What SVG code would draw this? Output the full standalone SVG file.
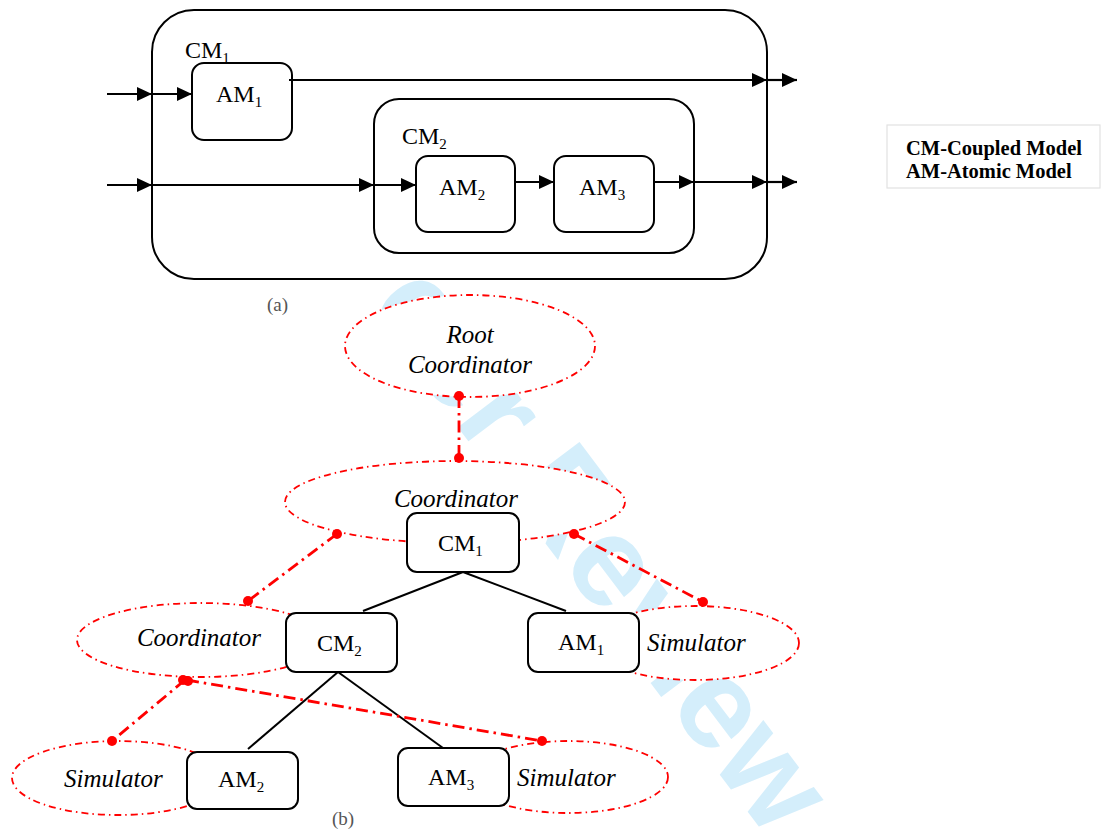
<svg xmlns="http://www.w3.org/2000/svg" width="1101" height="831" viewBox="0 0 1101 831">
  <style>
    .box { fill: #ffffff; stroke: #000000; stroke-width: 2; }
    .arrow { stroke: #000000; stroke-width: 2.2; fill: none; marker-end: url(#ah); }
    .lbl { font-family: "Liberation Serif", "Times New Roman", serif; font-size: 24px; fill: #000000; }
    .sub { font-size: 15px; }
    .role { font-family: "Liberation Serif", "Times New Roman", serif; font-style: italic; font-size: 25px; fill: #000000; }
    .cap { font-family: "Liberation Serif", "Times New Roman", serif; font-size: 19px; fill: #555555; }
    .legend { font-family: "Liberation Serif", "Times New Roman", serif; font-weight: bold; font-size: 20.5px; fill: #000000; }
    .proc { fill: #ffffff; stroke: #ff0000; stroke-width: 1.8; stroke-dasharray: 7 4 1.5 4; }
    .link { fill: none; stroke: #ff0000; stroke-width: 2.8; stroke-dasharray: 12 5 2.5 5; }
    .dot { fill: #ff0000; }
    .tree { stroke: #000000; stroke-width: 2; fill: none; }
  </style>
  <defs>
    <marker id="ah" markerUnits="userSpaceOnUse" markerWidth="16" markerHeight="14" refX="15" refY="7" orient="auto">
      <path d="M0,0 L15,7 L0,14 Z" fill="#000000"/>
    </marker>
    <clipPath id="page-body">
      <rect x="0" y="14" width="1101" height="817"/>
    </clipPath>
  </defs>

  <rect width="1101" height="831" fill="#ffffff"/>

  <!-- review watermark, sits behind the white-filled shapes -->
  <g clip-path="url(#page-body)">
    <text transform="translate(170,45) rotate(53)" font-family="Liberation Sans, Arial, sans-serif" font-weight="bold" font-size="128" fill="#d4eefb">For Peer Review</text>
  </g>

  <!-- (a) coupled model structure -->
  <g id="cm1-outer">
    <rect class="box" x="152" y="10" width="615" height="269" rx="42"/>
    <text class="lbl" x="185" y="58">CM<tspan class="sub" dy="5">1</tspan></text>
  </g>
  <g id="am1-a">
    <rect class="box" x="192" y="63" width="100" height="77" rx="12"/>
    <text class="lbl" x="216" y="102">AM<tspan class="sub" dy="5">1</tspan></text>
  </g>
  <g id="cm2-a">
    <rect class="box" x="374" y="99" width="320" height="154" rx="25"/>
    <text class="lbl" x="402" y="144">CM<tspan class="sub" dy="5">2</tspan></text>
  </g>
  <g id="am2-a">
    <rect class="box" x="416" y="156" width="99" height="76" rx="12"/>
    <text class="lbl" x="439" y="195">AM<tspan class="sub" dy="5">2</tspan></text>
  </g>
  <g id="am3-a">
    <rect class="box" x="554" y="156" width="100" height="76" rx="12"/>
    <text class="lbl" x="579" y="195">AM<tspan class="sub" dy="5">3</tspan></text>
  </g>

  <g id="ports-a">
    <!-- input 1 -->
    <line class="arrow" x1="107" y1="94" x2="152" y2="94"/>
    <line class="arrow" x1="152" y1="94" x2="192" y2="94"/>
    <!-- input 2 -->
    <line class="arrow" x1="107" y1="185" x2="152" y2="185"/>
    <line class="arrow" x1="152" y1="185" x2="374" y2="185"/>
    <line class="arrow" x1="374" y1="185" x2="416" y2="185"/>
    <!-- AM2 to AM3 -->
    <line class="arrow" x1="515" y1="182" x2="554" y2="182"/>
    <!-- AM3 output -->
    <line class="arrow" x1="654" y1="182" x2="694" y2="182"/>
    <line class="arrow" x1="694" y1="182" x2="767" y2="182"/>
    <line class="arrow" x1="767" y1="182" x2="797" y2="182"/>
    <!-- AM1 output -->
    <line class="arrow" x1="289" y1="80" x2="767" y2="80"/>
    <line class="arrow" x1="767" y1="80" x2="797" y2="80"/>
  </g>

  <text class="cap" x="267" y="311">(a)</text>

  <!-- legend -->
  <g id="legend">
    <rect x="887" y="125" width="213" height="63" fill="#ffffff" stroke="#e2e2e2" stroke-width="1.2"/>
    <text class="legend" x="906" y="155">CM-Coupled Model</text>
    <text class="legend" x="906" y="178">AM-Atomic Model</text>
  </g>

  <!-- (b) simulation processors -->
  <g id="processors">
    <ellipse class="proc" cx="470" cy="346" rx="125" ry="51"/>
    <ellipse class="proc" cx="455" cy="502" rx="170" ry="41"/>
    <ellipse class="proc" cx="201" cy="640" rx="124" ry="37"/>
    <ellipse class="proc" cx="695" cy="643" rx="104" ry="37"/>
    <ellipse class="proc" cx="118" cy="778" rx="106" ry="37"/>
    <ellipse class="proc" cx="568" cy="777" rx="100" ry="36"/>
  </g>

  <!-- model tree -->
  <g id="tree">
    <line class="tree" x1="463" y1="572" x2="363" y2="611"/>
    <line class="tree" x1="463" y1="572" x2="566" y2="611"/>
    <line class="tree" x1="338" y1="672" x2="248" y2="749"/>
    <line class="tree" x1="338" y1="672" x2="443" y2="748"/>
  </g>

  <!-- processor links -->
  <g id="links">
    <line class="link" x1="459" y1="396" x2="459" y2="458"/>
    <line class="link" x1="337" y1="534" x2="248" y2="601"/>
    <line class="link" x1="574" y1="534" x2="703" y2="602"/>
    <line class="link" x1="185" y1="680" x2="112" y2="741"/>
    <line class="link" x1="187" y1="680" x2="542" y2="741"/>
    <circle class="dot" cx="459" cy="396" r="5"/>
    <circle class="dot" cx="459" cy="458" r="5"/>
    <circle class="dot" cx="337" cy="534" r="5"/>
    <circle class="dot" cx="574" cy="534" r="5"/>
    <circle class="dot" cx="248" cy="601" r="5"/>
    <circle class="dot" cx="703" cy="602" r="5"/>
    <circle class="dot" cx="183" cy="680" r="5"/>
    <circle class="dot" cx="188" cy="681" r="5"/>
    <circle class="dot" cx="112" cy="741" r="5"/>
    <circle class="dot" cx="542" cy="741" r="5"/>
  </g>

  <g id="root-coordinator">
    <text class="role" x="470" y="343" text-anchor="middle">Root</text>
    <text class="role" x="470" y="373" text-anchor="middle">Coordinator</text>
  </g>
  <g id="cm1-b">
    <text class="role" x="456" y="507" text-anchor="middle">Coordinator</text>
    <rect class="box" x="407" y="513" width="112" height="59" rx="10"/>
    <text class="lbl" x="438" y="551">CM<tspan class="sub" dy="5">1</tspan></text>
  </g>
  <g id="cm2-b">
    <text class="role" x="199" y="646" text-anchor="middle">Coordinator</text>
    <rect class="box" x="286" y="613" width="111" height="59" rx="10"/>
    <text class="lbl" x="317" y="651">CM<tspan class="sub" dy="5">2</tspan></text>
  </g>
  <g id="am1-b">
    <rect class="box" x="528" y="613" width="111" height="59" rx="10"/>
    <text class="lbl" x="558" y="650">AM<tspan class="sub" dy="5">1</tspan></text>
    <text class="role" x="647" y="651">Simulator</text>
  </g>
  <g id="am2-b">
    <text class="role" x="64" y="787">Simulator</text>
    <rect class="box" x="187" y="752" width="111" height="57" rx="10"/>
    <text class="lbl" x="218" y="787">AM<tspan class="sub" dy="5">2</tspan></text>
  </g>
  <g id="am3-b">
    <rect class="box" x="398" y="748" width="111" height="58" rx="10"/>
    <text class="lbl" x="428" y="785">AM<tspan class="sub" dy="5">3</tspan></text>
    <text class="role" x="517" y="786">Simulator</text>
  </g>

  <text class="cap" x="332" y="825">(b)</text>
</svg>
